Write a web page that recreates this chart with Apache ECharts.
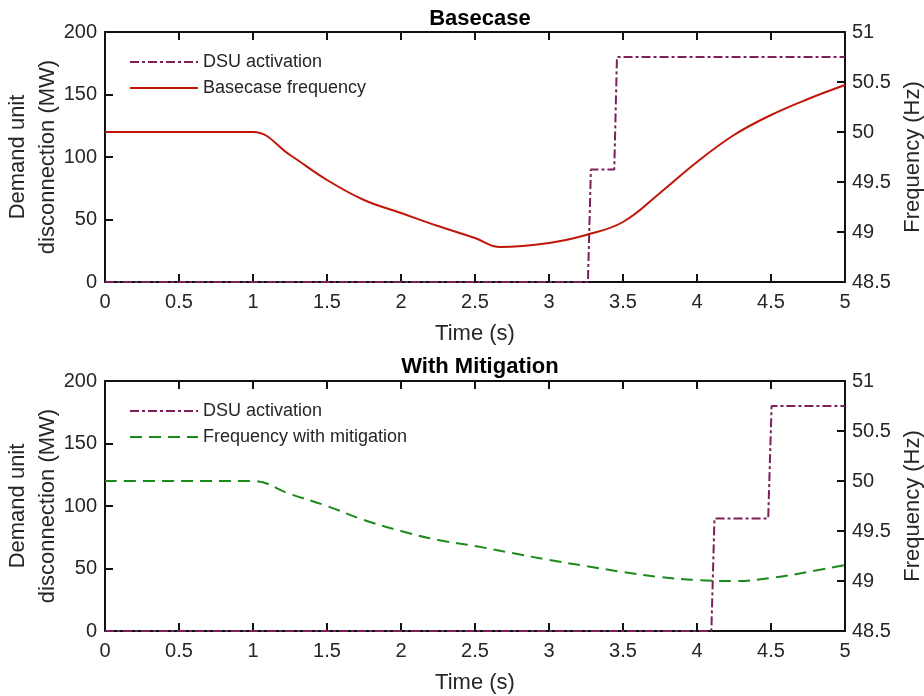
<!DOCTYPE html>
<html>
<head>
<meta charset="utf-8">
<script src="https://cdn.jsdelivr.net/npm/echarts@6/dist/echarts.min.js"></script>
<style>
  html, body { margin: 0; padding: 0; background: #fff; }
  #main { width: 924px; height: 696px; }
</style>
</head>
<body>
<div id="main"></div>
<script>
// basecase: DSU step (MW) and frequency (Hz)
const baseDsuTime = [0, 3.263, 3.283, 3.441, 3.459, 5];
const baseDsuMW = [0, 0, 90, 90, 180, 180];
const baseFreqTime = [0, 0.5, 1, 1.25, 1.5, 1.75, 2, 2.25, 2.5, 2.67, 3, 3.25, 3.5, 3.75, 4, 4.25, 4.5, 4.75, 5];
const baseFreqHz = [50, 50, 50, 49.77, 49.52, 49.32, 49.19, 49.06, 48.94, 48.85, 48.89, 48.97, 49.10, 49.39, 49.70, 49.97, 50.17, 50.33, 50.47];

// with mitigation
const mitDsuTime = [0, 4.097, 4.118, 4.481, 4.504, 5];
const mitDsuMW = [0, 0, 90, 90, 180, 180];
const mitFreqTime = [0, 0.5, 1, 1.25, 1.5, 1.75, 2, 2.25, 2.5, 2.75, 3, 3.25, 3.5, 3.75, 4, 4.25, 4.5, 4.75, 5];
const mitFreqHz = [50, 50, 50, 49.87, 49.75, 49.61, 49.50, 49.41, 49.35, 49.28, 49.21, 49.15, 49.09, 49.04, 49.01, 49.00, 49.03, 49.09, 49.16];

const pairs = (xs, ys) => xs.map((x, i) => [x, ys[i]]);

const FONT = 'Liberation Sans, Arial, sans-serif';
const AX = '#262626';
const DSU_C = '#7e1f5a';
const RED_C = '#c0160a';
const GREEN_C = '#1a8a1a';

const chart = echarts.init(document.getElementById('main'));

const grids = [
  { left: 105, right: 79, top: 32, height: 250, outerBoundsMode: 'none', containLabel: false },
  { left: 105, right: 79, top: 381, height: 250, outerBoundsMode: 'none', containLabel: false }
];

const lineSty = { color: '#111', width: 2 };
const tickFont = { fontFamily: FONT, fontSize: 20, color: AX };
const nameFont = { fontFamily: FONT, fontSize: 22, color: AX };

function xAxes(g) {
  return [
    {
      type: 'value', gridIndex: g, min: 0, max: 5, interval: 0.5,
      name: 'Time (s)', nameLocation: 'middle', nameGap: 41,
      nameTextStyle: nameFont,
      axisLine: { onZero: false, lineStyle: lineSty },
      axisTick: { inside: true, length: 8, lineStyle: lineSty },
      axisLabel: { ...tickFont, margin: 10 },
      splitLine: { show: false }
    },
    {
      type: 'value', gridIndex: g, position: 'top', min: 0, max: 5, interval: 0.5,
      axisLine: { onZero: false, lineStyle: lineSty },
      axisTick: { inside: true, length: 8, lineStyle: lineSty },
      axisLabel: { show: false },
      splitLine: { show: false }
    }
  ];
}

function yAxes(g) {
  return [
    {
      type: 'value', gridIndex: g, position: 'left', min: 0, max: 200, interval: 50,
      name: 'Demand unit\ndisconnection (MW)', nameLocation: 'middle', nameGap: 42,
      nameMoveOverlap: false,
      nameTextStyle: { ...nameFont, lineHeight: 30 },
      axisLine: { show: true, onZero: false, lineStyle: lineSty },
      axisTick: { show: true, inside: false, length: -8, lineStyle: lineSty },
      axisLabel: { ...tickFont, margin: 8 },
      splitLine: { show: false }
    },
    {
      type: 'value', gridIndex: g, position: 'right', min: 48.5, max: 51, interval: 0.5,
      name: 'Frequency (Hz)', nameLocation: 'middle', nameGap: 56, nameRotate: 90,
      nameTextStyle: nameFont,
      axisLine: { show: true, onZero: false, lineStyle: lineSty },
      axisTick: { show: true, inside: true, length: 8, lineStyle: lineSty },
      axisLabel: { ...tickFont, margin: 7 },
      splitLine: { show: false }
    }
  ];
}

function legend(top, names) {
  return {
    orient: 'vertical', left: 124, top: top, itemWidth: 68, itemHeight: 2, itemGap: 8,
    itemStyle: { opacity: 0 },
    textStyle: { fontFamily: FONT, fontSize: 18, color: AX },
    data: names
  };
}

const dsuStyle = { color: DSU_C, width: 2, type: [9, 3, 3, 3] };
const titleFont = { fontFamily: FONT, fontSize: 22, fontWeight: 'bold', color: '#000' };

const option = {
  animation: false,
  backgroundColor: '#fff',
  title: [
    { text: 'Basecase', left: 475, top: 3, textAlign: 'center', textStyle: titleFont },
    { text: 'With Mitigation', left: 475, top: 351, textAlign: 'center', textStyle: titleFont }
  ],
  grid: grids,
  legend: [
    legend(48, ['DSU activation', 'Basecase frequency']),
    legend(397, ['DSU activation', 'Frequency with mitigation'])
  ],
  xAxis: [...xAxes(0), ...xAxes(1)],
  yAxis: [...yAxes(0), ...yAxes(1)],
  series: [
    {
      name: 'DSU activation', type: 'line', xAxisIndex: 0, yAxisIndex: 0,
      data: pairs(baseDsuTime, baseDsuMW), symbol: 'none', z: 3,
      lineStyle: dsuStyle, itemStyle: { color: DSU_C }
    },
    {
      name: 'Basecase frequency', type: 'line', xAxisIndex: 0, yAxisIndex: 1,
      data: pairs(baseFreqTime, baseFreqHz), symbol: 'none', smooth: 0.4,
      lineStyle: { color: RED_C, width: 2 }, itemStyle: { color: RED_C }
    },
    {
      name: 'DSU activation', type: 'line', xAxisIndex: 2, yAxisIndex: 2,
      data: pairs(mitDsuTime, mitDsuMW), symbol: 'none', z: 3,
      lineStyle: dsuStyle, itemStyle: { color: DSU_C }
    },
    {
      name: 'Frequency with mitigation', type: 'line', xAxisIndex: 2, yAxisIndex: 3,
      data: pairs(mitFreqTime, mitFreqHz), symbol: 'none', smooth: 0.4,
      lineStyle: { color: GREEN_C, width: 2, type: [12, 7] }, itemStyle: { color: GREEN_C }
    }
  ]
};

chart.setOption(option);
</script>
</body>
</html>
